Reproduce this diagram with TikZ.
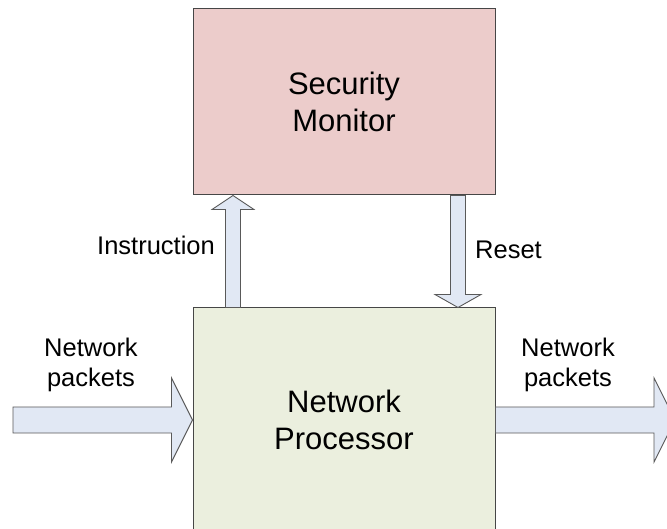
\documentclass[tikz,border=0pt]{standalone}
\usepackage{fontspec}
\setmainfont{Liberation Sans}
\usepackage{tikz}
\usepackage{xcolor}
\usetikzlibrary{positioning}
\usetikzlibrary{calc}

\definecolor{monfill}{RGB}{236,204,203}
\definecolor{procfill}{RGB}{235,239,222}
\definecolor{arrfill}{RGB}{225,232,244}
\definecolor{edgegray}{RGB}{70,70,70}

\tikzset{
  unitbox/.style={draw=edgegray, line width=1pt, minimum width=302pt, align=center,
    font=\fontsize{31}{37}\selectfont},
  blockarrow/.style={draw=black!65, line width=0.9pt, fill=arrfill, line join=miter},
  lbl/.style={align=center, font=\fontsize{25.5}{30}\selectfont, inner sep=0pt}
}

\begin{document}
\begin{tikzpicture}[x=1pt,y=1pt]
\useasboundingbox (0,0) rectangle (667,528);
\clip (0,0) rectangle (667,528);

\node[unitbox, fill=monfill, minimum height=186pt] (monitor) at (344,426) {Security\\Monitor};
\node[unitbox, fill=procfill, minimum height=224pt] (proc) at (344,108) {Network\\Processor};

\coordinate (ins) at ($(monitor.south west)+(40.5,0)$);
\coordinate (rst) at ($(proc.north east)+(-37.5,0)$);
\coordinate (pin) at (13,108);
\coordinate (pout) at (675,108);

% instruction: processor -> monitor
\draw[blockarrow] ($(ins |- proc.north)+(-7.5,0)$) -- ($(ins)+(-7.5,-14)$) -- ($(ins)+(-21,-14)$)
  -- (ins) -- ($(ins)+(21,-14)$) -- ($(ins)+(7.5,-14)$) -- ($(ins |- proc.north)+(7.5,0)$) -- cycle;
% reset: monitor -> processor
\draw[blockarrow] ($(rst |- monitor.south)+(-7.5,0)$) -- ($(rst)+(-7.5,13)$) -- ($(rst)+(-23,13)$)
  -- (rst) -- ($(rst)+(23,13)$) -- ($(rst)+(7.5,13)$) -- ($(rst |- monitor.south)+(7.5,0)$) -- cycle;
% packets in
\draw[blockarrow] ($(pin)+(0,13)$) -- ($(proc.west)+(-21,13)$) -- ($(proc.west)+(-21,42)$)
  -- (proc.west) -- ($(proc.west)+(-21,-42)$) -- ($(proc.west)+(-21,-13)$) -- ($(pin)+(0,-13)$) -- cycle;
% packets out
\draw[blockarrow] ($(proc.east)+(0,13)$) -- ($(pout)+(-21,13)$) -- ($(pout)+(-21,42)$)
  -- (pout) -- ($(pout)+(-21,-42)$) -- ($(pout)+(-21,-13)$) -- ($(proc.east)+(0,-13)$) -- cycle;

\node[lbl, anchor=base east] (inslbl) at (215,273) {Instruction};
\node[lbl, anchor=base west] (rstlbl) at (475,269) {Reset};
\node[lbl] (inlbl) at (91,163) {Network\\packets};
\node[lbl] (outlbl) at (568,163) {Network\\packets};
\end{tikzpicture}
\end{document}
